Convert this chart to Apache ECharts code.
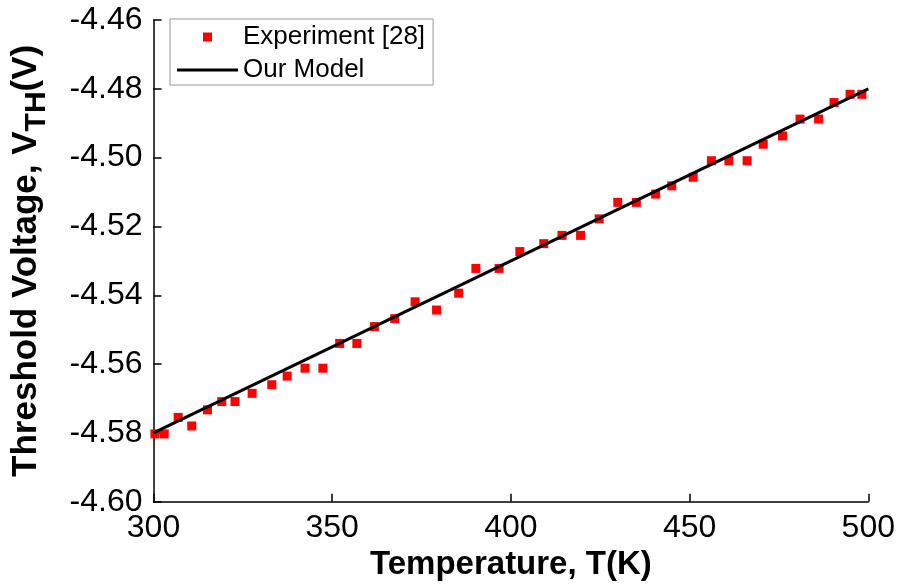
<!DOCTYPE html>
<html>
<head>
<meta charset="utf-8">
<script src="https://cdn.jsdelivr.net/npm/echarts@6/dist/echarts.min.js"></script>
<style>
html,body{margin:0;padding:0;background:#fff;}
#chart{width:900px;height:588px;}
</style>
</head>
<body>
<div id="chart"></div>
<script>
const expTemps = [300.4, 303.0, 306.9, 310.7, 315.1, 319.1, 322.8, 327.6, 333.1, 337.4, 342.4, 347.4, 352.1, 356.9, 361.8, 367.5, 373.2, 379.2, 385.4, 390.2, 396.7, 402.5, 409.2, 414.3, 419.5, 424.7, 429.9, 435.1, 440.5, 445.0, 451.0, 456.1, 461.0, 466.1, 470.6, 476.0, 480.9, 486.1, 490.4, 494.9, 498.2];
const expVth = [-4.5803, -4.5803, -4.5755, -4.5780, -4.5733, -4.5709, -4.5709, -4.5685, -4.5660, -4.5635, -4.5612, -4.5612, -4.5540, -4.5540, -4.5491, -4.5468, -4.5419, -4.5443, -4.5394, -4.5322, -4.5322, -4.5273, -4.5250, -4.5226, -4.5226, -4.5178, -4.5130, -4.5130, -4.5106, -4.5082, -4.5057, -4.5009, -4.5009, -4.5009, -4.4961, -4.4937, -4.4888, -4.4888, -4.4840, -4.4816, -4.4816];
// Model line
const modelTemps = [300, 500];
const modelVth = [-4.580, -4.480];
// Axis ticks
const xTicks = [300, 350, 400, 450, 500];
const yTicks = [-4.60, -4.58, -4.56, -4.54, -4.52, -4.50, -4.48, -4.46];
const seriesNames = ['Experiment [28]', 'Our Model'];

const FONT = 'Liberation Sans, Arial, sans-serif';
const chart = echarts.init(document.getElementById('chart'), null, {renderer: 'canvas'});

const option = {
  animation: false,
  backgroundColor: '#ffffff',
  grid: { left: 153.5, right: 31.7, top: 20, bottom: 86.3, containLabel: false },
  legend: {
    orient: 'vertical',
    left: 170, top: 19,
    padding: [5, 8, 2, 7],
    itemGap: 7,
    itemWidth: 61, itemHeight: 9,
    borderColor: '#999', borderWidth: 1,
    backgroundColor: '#ffffff',
    textStyle: { fontFamily: FONT, fontSize: 26, color: '#000' },
    data: [
      { name: seriesNames[0], icon: 'path://M0,0h10v10h-10z', itemStyle: { color: '#ff0000', opacity: 1 } },
      { name: seriesNames[1], icon: 'path://M0,0h61v3h-61z', itemStyle: { color: '#000000' } }
    ]
  },
  xAxis: {
    type: 'value',
    min: xTicks[0], max: xTicks[xTicks.length - 1], interval: 50,
    name: 'Temperature, T(K)',
    nameLocation: 'middle', nameGap: 46,
    nameTextStyle: { fontFamily: FONT, fontSize: 33, fontWeight: 'bold', color: '#000', lineHeight: 33 },
    axisLine: { show: true, onZero: false, lineStyle: { color: '#000', width: 1.5 } },
    axisTick: { show: true, inside: true, length: 8, lineStyle: { color: '#000', width: 1.5 } },
    axisLabel: { fontFamily: FONT, fontSize: 32, color: '#000', margin: 10, lineHeight: 32, showMinLabel: true, showMaxLabel: true },
    splitLine: { show: false }
  },
  yAxis: {
    type: 'value',
    min: yTicks[0], max: yTicks[yTicks.length - 1], interval: 0.02,
    name: '{a|Threshold Voltage, V}{s|TH}{a|(V)}',
    nameLocation: 'middle', nameRotate: 90, nameGap: 102,
    nameTextStyle: {
      fontFamily: FONT, fontWeight: 'bold', color: '#000',
      rich: {
        a: { fontFamily: FONT, fontSize: 35, fontWeight: 'bold', color: '#000', lineHeight: 50 },
        s: { fontFamily: FONT, fontSize: 30, fontWeight: 'bold', color: '#000', lineHeight: 15, verticalAlign: 'bottom' }
      }
    },
    axisLine: { show: true, onZero: false, lineStyle: { color: '#000', width: 1.5 } },
    axisTick: { show: true, inside: true, length: 8, lineStyle: { color: '#000', width: 1.5 } },
    axisLabel: { fontFamily: FONT, fontSize: 32, color: '#000', margin: 11, formatter: v => v.toFixed(2), showMinLabel: true, showMaxLabel: true },
    splitLine: { show: false }
  },
  series: [
    {
      name: seriesNames[0],
      type: 'scatter',
      symbol: 'rect',
      symbolSize: 9,
      itemStyle: { color: '#ff0000', opacity: 1 },
      data: expTemps.map((t, i) => [t, expVth[i]]),
      z: 2
    },
    {
      name: seriesNames[1],
      type: 'line',
      showSymbol: false,
      symbol: 'none',
      lineStyle: { color: '#000', width: 3 },
      itemStyle: { color: '#000' },
      data: modelTemps.map((t, i) => [t, modelVth[i]]),
      z: 3
    }
  ]
};
chart.setOption(option);
</script>
</body>
</html>
